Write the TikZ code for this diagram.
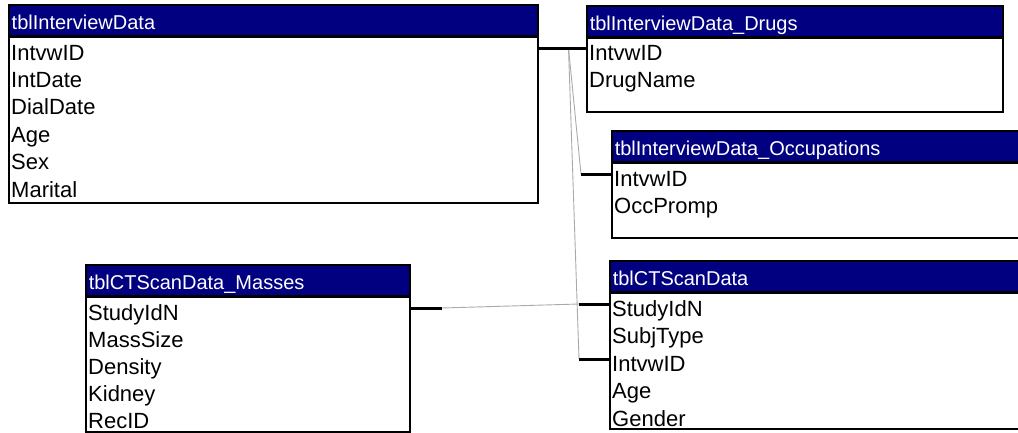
\documentclass[tikz,border=0pt]{standalone}
\usepackage{fontspec}
\setmainfont{Liberation Sans}
\usepackage{tikz}
\usetikzlibrary{positioning}
\definecolor{accessnavy}{RGB}{0,0,128}
\definecolor{relgray}{RGB}{170,170,170}
\newcommand{\fieldfont}{\fontsize{22}{27}\selectfont}
\newcommand{\headfont}{\fontsize{20}{24}\selectfont}

\begin{document}
\begin{tikzpicture}[x=1pt, y=-1pt,
                    tblbox/.style={draw=black, line width=1.5pt, fill=white, anchor=north west, inner sep=0pt},
                    tblhead/.style={draw=black, line width=1.5pt, fill=accessnavy, text=white, anchor=north west,
                                    minimum height=31pt, inner xsep=3pt, inner ysep=0pt, text height=18pt, text depth=0pt,
                                    align=left, font=\headfont},
                    headrule/.style={line width=2.5pt, black},
                    field/.style={anchor=base west, inner sep=0pt, font=\fieldfont},
                    keyline/.style={line width=3pt, black},
                    relline/.style={line width=0.9pt, relgray},
                   ]

\useasboundingbox (0,0) rectangle (1018,432);
\clip (0,0) rectangle (1018,432);

% tables
\node[tblbox, minimum width=529pt, minimum height=198pt] (intv) at (8,4) {};
\node[tblhead, text width=523pt] (intv-h) at (8,4) {tblInterviewData};
\draw[headrule] (intv-h.south west) -- (intv-h.south east);
\foreach \f [count=\i] in {IntvwID,IntDate,DialDate,Age,Sex,Marital}
  \node[field] (intv-\i) at (11,{60+27.4*(\i-1)}) {\f};

\node[tblbox, minimum width=416pt, minimum height=106pt] (drug) at (586,5) {};
\node[tblhead, text width=410pt] (drug-h) at (586,5) {tblInterviewData\_Drugs};
\draw[headrule] (drug-h.south west) -- (drug-h.south east);
\foreach \f [count=\i] in {IntvwID,DrugName}
  \node[field] (drug-\i) at (589,{60+27.4*(\i-1)}) {\f};

\node[tblbox, minimum width=430pt, minimum height=107pt] (occ) at (611,130) {};
\node[tblhead, text width=424pt] (occ-h) at (611,130) {tblInterviewData\_Occupations};
\draw[headrule] (occ-h.south west) -- (occ-h.south east);
\foreach \f [count=\i] in {IntvwID,OccPromp}
  \node[field] (occ-\i) at (614,{186+27.4*(\i-1)}) {\f};

\node[tblbox, minimum width=324pt, minimum height=167pt] (mass) at (85,264) {};
\node[tblhead, text width=318pt] (mass-h) at (85,264) {tblCTScanData\_Masses};
\draw[headrule] (mass-h.south west) -- (mass-h.south east);
\foreach \f [count=\i] in {StudyIdN,MassSize,Density,Kidney,RecID}
  \node[field] (mass-\i) at (88,{320+27.2*(\i-1)}) {\f};

\node[tblbox, minimum width=430pt, minimum height=168pt] (ct) at (609,260) {};
\node[tblhead, text width=424pt] (ct-h) at (609,260) {tblCTScanData};
\draw[headrule] (ct-h.south west) -- (ct-h.south east);
\foreach \f [count=\i] in {StudyIdN,SubjType,IntvwID,Age,Gender}
  \node[field] (ct-\i) at (612,{316+27.6*(\i-1)}) {\f};
\draw[line width=1.5pt] (ct.south west) -- (ct.south east);

% relationships
\coordinate (intv-key) at ([xshift=30pt, yshift=12pt]intv-1.base -| intv.east);
\coordinate (occ-key)  at ([xshift=-30pt, yshift=12pt]occ-1.base -| occ.west);
\coordinate (ct-key1)  at ([xshift=-30pt, yshift=12pt]ct-1.base -| ct.west);
\coordinate (ct-key3)  at ([xshift=-30pt, yshift=12pt]ct-3.base -| ct.west);
\coordinate (mass-key) at ([xshift=31pt, yshift=12pt]mass-1.base -| mass.east);

\draw[relline] (intv-key) -- (occ-key);
\draw[relline] (intv-key) -- (ct-key3);
\draw[relline] (mass-key) -- (ct-key1);

\draw[keyline] ([yshift=12pt]intv-1.base -| intv.east) -- ([yshift=12pt]drug-1.base -| drug.west);
\draw[keyline] (occ-key) -- ([yshift=12pt]occ-1.base -| occ.west);
\draw[keyline] ([yshift=12pt]mass-1.base -| mass.east) -- (mass-key);
\draw[keyline] (ct-key1) -- ([yshift=12pt]ct-1.base -| ct.west);
\draw[keyline] (ct-key3) -- ([yshift=12pt]ct-3.base -| ct.west);

\end{tikzpicture}
\end{document}
